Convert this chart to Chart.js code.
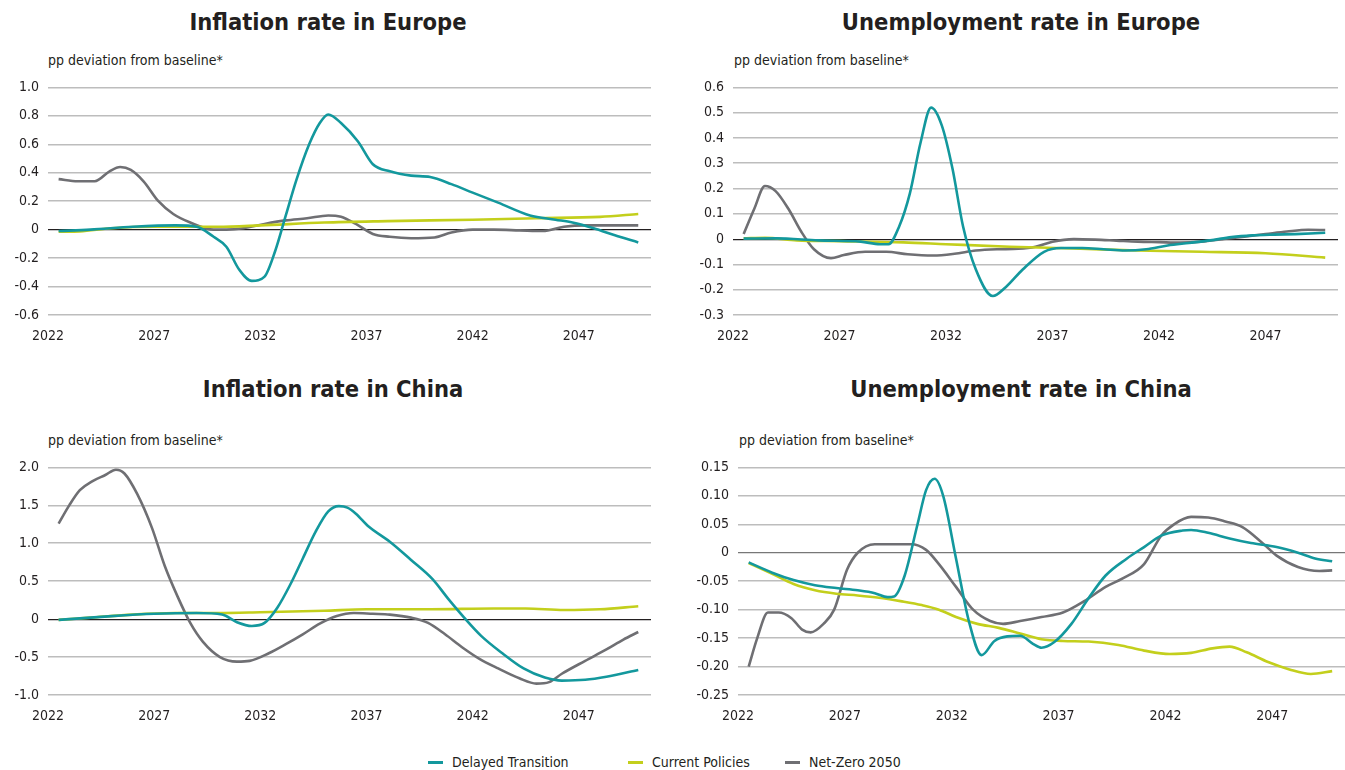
<!DOCTYPE html>
<html>
<head>
<meta charset="utf-8">
<script src="https://cdn.jsdelivr.net/npm/chart.js@4.4.0/dist/chart.umd.min.js"></script>
<style>
    body { margin: 0; background: #fff; width: 1345px; height: 770px; position: relative; overflow: hidden;
           font-family: "Liberation Sans Narrow", "DejaVu Sans Condensed", sans-serif; color: #231f20; }
    canvas { position: absolute; }
    .title { position: absolute; font-weight: bold; font-size: 23.5px; text-align: center; line-height: 30px; }
    .unit { position: absolute; font-size: 14px; line-height: 20px; }
    .legend { position: absolute; top: 752px; font-size: 14px; line-height: 20px; }
    .legend span { display: inline-block; width: 15px; height: 3px; vertical-align: middle; margin-right: 9px; position: relative; top: -1px; }
</style>
</head>
<body>

<div class="title" style="left:0;width:656px;top:7px">Inflation rate in Europe</div>
<div class="title" style="left:680px;width:682px;top:7px">Unemployment rate in Europe</div>
<div class="title" style="left:0;width:666px;top:374px">Inflation rate in China</div>
<div class="title" style="left:680px;width:682px;top:374px">Unemployment rate in China</div>

<div class="unit" style="left:48px;top:50px">pp deviation from baseline*</div>
<div class="unit" style="left:734px;top:50px">pp deviation from baseline*</div>
<div class="unit" style="left:48px;top:430px">pp deviation from baseline*</div>
<div class="unit" style="left:739px;top:430px">pp deviation from baseline*</div>

<canvas id="inflEu" width="665" height="285" style="left:0;top:70px"></canvas>
<canvas id="unempEu" width="665" height="285" style="left:680px;top:70px"></canvas>
<canvas id="inflCn" width="665" height="285" style="left:0;top:450px"></canvas>
<canvas id="unempCn" width="665" height="285" style="left:680px;top:450px"></canvas>

<div class="legend" style="left:428px"><span style="background:#13989d"></span>Delayed Transition</div>
<div class="legend" style="left:628px"><span style="background:#c3cf1c"></span>Current Policies</div>
<div class="legend" style="left:785px"><span style="background:#6f6f73"></span>Net-Zero 2050</div>

<script>
// x axis
var yearTicks = [2022, 2027, 2032, 2037, 2042, 2047];
var seriesNames = ['Delayed Transition', 'Current Policies', 'Net-Zero 2050'];
var seriesColors = ['#13989d', '#c3cf1c', '#6f6f73'];

// Inflation rate in Europe - [year, pp]
var inflEuDelayed = [[2022.5,-0.01],[2024,0.0],[2026,0.02],[2028,0.03],[2029,0.02],[2029.8,-0.05],[2030.4,-0.12],[2031,-0.28],[2031.6,-0.36],[2032.2,-0.33],[2032.7,-0.15],[2033.2,0.1],[2033.7,0.35],[2034.3,0.6],[2034.8,0.75],[2035.2,0.81],[2035.8,0.75],[2036.6,0.62],[2037.3,0.46],[2038.1,0.41],[2039.1,0.38],[2040,0.37],[2041,0.32],[2042,0.26],[2043.2,0.19],[2044.7,0.1],[2045.9,0.07],[2046.7,0.05],[2047.7,0.01],[2048.7,-0.04],[2049.8,-0.09]];
var inflEuCurrent = [[2022.5,-0.015],[2023.5,-0.012],[2025,0.01],[2027,0.02],[2030,0.02],[2032,0.03],[2035,0.05],[2038,0.06],[2042,0.07],[2045,0.08],[2048,0.09],[2049.8,0.11]];
var inflEuNetZero = [[2022.5,0.355],[2023.4,0.34],[2024.2,0.34],[2024.9,0.41],[2025.4,0.44],[2025.9,0.42],[2026.5,0.34],[2027.2,0.2],[2027.9,0.11],[2028.7,0.05],[2029.8,0.0],[2030.4,0.0],[2031.2,0.01],[2032.2,0.04],[2033.2,0.065],[2034.2,0.08],[2035.2,0.1],[2035.8,0.09],[2036.5,0.04],[2037.3,-0.03],[2038.1,-0.05],[2039.1,-0.06],[2040.2,-0.055],[2041,-0.02],[2042,0.0],[2043,0.0],[2044.2,-0.005],[2045.3,-0.01],[2046.3,0.02],[2047.3,0.03],[2048.5,0.03],[2049.8,0.03]];
var inflEuTicks = ['1.0', '0.8', '0.6', '0.4', '0.2', '0', '-0.2', '-0.4', '-0.6'];

// Unemployment rate in Europe
var unempEuDelayed = [[2022.5,0.002],[2024,0.003],[2026,-0.005],[2028,-0.01],[2028.9,-0.02],[2029.3,-0.02],[2029.8,0.05],[2030.3,0.18],[2030.8,0.38],[2031.3,0.52],[2031.8,0.45],[2032.3,0.28],[2032.8,0.05],[2033.4,-0.12],[2034.2,-0.225],[2034.8,-0.19],[2035.6,-0.12],[2036.6,-0.05],[2037.4,-0.035],[2038.4,-0.035],[2039.4,-0.04],[2040.4,-0.045],[2041.4,-0.04],[2042.4,-0.025],[2043.4,-0.015],[2044.4,-0.005],[2045.4,0.008],[2046.4,0.015],[2047.4,0.018],[2048.4,0.02],[2049.8,0.025]];
var unempEuCurrent = [[2022.5,0.003],[2023.5,0.005],[2025,-0.005],[2027,-0.008],[2030,-0.013],[2032,-0.02],[2035,-0.03],[2038,-0.037],[2041,-0.045],[2044,-0.05],[2047,-0.056],[2049.8,-0.073]];
var unempEuNetZero = [[2022.5,0.02],[2023,0.12],[2023.5,0.21],[2024,0.19],[2024.6,0.12],[2025.2,0.03],[2025.8,-0.04],[2026.6,-0.075],[2027.2,-0.063],[2028.2,-0.05],[2029.2,-0.05],[2030.2,-0.06],[2031.4,-0.065],[2032.4,-0.058],[2033.4,-0.045],[2034.4,-0.04],[2035.4,-0.038],[2036.2,-0.03],[2037,-0.01],[2038,0.0],[2039,-0.002],[2040,-0.006],[2041,-0.01],[2042,-0.012],[2043,-0.014],[2044,-0.01],[2045,0.0],[2046,0.01],[2047,0.02],[2048,0.03],[2049,0.037],[2049.8,0.036]];
var unempEuTicks = ['0.6', '0.5', '0.4', '0.3', '0.2', '0.1', '0', '-0.1', '-0.2', '-0.3'];

// Inflation rate in China
var inflCnDelayed = [[2022.5,-0.01],[2025,0.04],[2027,0.07],[2029,0.08],[2030.2,0.06],[2030.9,-0.04],[2031.6,-0.09],[2032.2,-0.05],[2032.8,0.15],[2033.4,0.45],[2034,0.8],[2034.6,1.15],[2035.2,1.42],[2035.7,1.49],[2036.1,1.47],[2036.5,1.39],[2037.1,1.22],[2038.1,1.02],[2039.1,0.78],[2040.1,0.53],[2040.9,0.25],[2041.6,0.02],[2042.4,-0.22],[2043.4,-0.45],[2044.4,-0.65],[2045.4,-0.77],[2046.2,-0.81],[2047.3,-0.8],[2048.3,-0.76],[2049.8,-0.67]];
var inflCnCurrent = [[2022.5,-0.01],[2024,0.02],[2026,0.06],[2028,0.08],[2030,0.08],[2032,0.09],[2035,0.11],[2037,0.13],[2040,0.13],[2043,0.14],[2044.5,0.14],[2046.3,0.12],[2048,0.13],[2049.8,0.17]];
var inflCnNetZero = [[2022.5,1.26],[2023,1.5],[2023.5,1.7],[2024.1,1.82],[2024.7,1.9],[2025.2,1.97],[2025.6,1.92],[2026.2,1.65],[2026.9,1.2],[2027.5,0.7],[2028.1,0.3],[2028.7,-0.05],[2029.3,-0.3],[2030.1,-0.5],[2030.9,-0.56],[2031.5,-0.55],[2032.4,-0.45],[2033.2,-0.33],[2034,-0.2],[2034.8,-0.06],[2035.6,0.04],[2036.4,0.08],[2037.3,0.07],[2038.1,0.06],[2039.1,0.02],[2039.9,-0.05],[2040.7,-0.2],[2041.5,-0.37],[2042.3,-0.52],[2043.2,-0.65],[2044.2,-0.78],[2045,-0.85],[2045.6,-0.83],[2046.2,-0.72],[2047.3,-0.55],[2048.3,-0.4],[2049.1,-0.27],[2049.8,-0.17]];
var inflCnTicks = ['2.0', '1.5', '1.0', '0.5', '0', '-0.5', '-1.0'];

// Unemployment rate in China
var unempCnDelayed = [[2022.5,-0.017],[2023.6,-0.035],[2024.6,-0.048],[2025.6,-0.057],[2026.6,-0.062],[2027.6,-0.066],[2028.4,-0.071],[2029,-0.078],[2029.3,-0.077],[2029.8,-0.04],[2030.4,0.05],[2030.8,0.11],[2031.2,0.13],[2031.6,0.1],[2032.2,-0.01],[2032.8,-0.12],[2033.4,-0.18],[2034,-0.155],[2034.6,-0.147],[2035.2,-0.146],[2035.8,-0.16],[2036.2,-0.167],[2036.8,-0.157],[2037.6,-0.125],[2038.4,-0.08],[2039.2,-0.04],[2040.2,-0.01],[2041,0.01],[2041.8,0.03],[2042.8,0.039],[2043.2,0.04],[2044,0.035],[2045,0.025],[2046,0.017],[2047.2,0.01],[2048.2,0.0],[2049,-0.01],[2049.8,-0.015]];
var unempCnCurrent = [[2022.5,-0.018],[2023.6,-0.037],[2024.6,-0.055],[2025.6,-0.066],[2026.6,-0.072],[2027.6,-0.075],[2028.6,-0.079],[2029.6,-0.085],[2030.6,-0.092],[2031.4,-0.1],[2032.2,-0.113],[2033.2,-0.125],[2034.2,-0.132],[2035.2,-0.142],[2036.2,-0.152],[2037.2,-0.155],[2038.4,-0.156],[2039.8,-0.162],[2041,-0.172],[2042.2,-0.178],[2043.2,-0.176],[2044.2,-0.168],[2045,-0.165],[2045.8,-0.175],[2046.8,-0.192],[2047.8,-0.205],[2048.8,-0.213],[2049.8,-0.208]];
var unempCnNetZero = [[2022.5,-0.2],[2022.9,-0.15],[2023.4,-0.105],[2023.9,-0.105],[2024.5,-0.115],[2025,-0.135],[2025.4,-0.14],[2026,-0.125],[2026.5,-0.1],[2027.1,-0.03],[2027.6,0.0],[2028.4,0.015],[2029.2,0.015],[2030.1,0.015],[2030.8,0.005],[2031.4,-0.02],[2032.2,-0.06],[2033,-0.1],[2033.8,-0.12],[2034.4,-0.125],[2035.2,-0.12],[2036.2,-0.113],[2037.2,-0.105],[2038.2,-0.085],[2039.2,-0.06],[2040,-0.045],[2041,-0.02],[2041.8,0.03],[2042.4,0.05],[2043.2,0.063],[2044,0.062],[2044.8,0.055],[2045.6,0.045],[2046.6,0.015],[2047.2,-0.005],[2048.2,-0.025],[2049.2,-0.032],[2049.8,-0.031]];
var unempCnTicks = ['0.15', '0.10', '0.05', '0', '-0.05', '-0.10', '-0.15', '-0.20', '-0.25'];

var FONT = '"Liberation Sans Narrow", "DejaVu Sans Condensed", sans-serif';

function toPoints(pairs) {
    return pairs.map(function(p) { return { x: p[0], y: p[1] }; });
}

function createChart(id, series, tickLabels, axisWidth, rightPad, zeroColor) {
    var tickValues = tickLabels.map(Number);
    var datasets = series.map(function(s, i) {
        return {
            label: seriesNames[i],
            data: toPoints(s),
            borderColor: seriesColors[i],
            borderWidth: 2.6,
            pointRadius: 0,
            fill: false,
            cubicInterpolationMode: 'monotone'
        };
    });

    new Chart(document.getElementById(id).getContext('2d'), {
        type: 'line',
        data: { datasets: datasets },
        options: {
            responsive: false,
            animation: false,
            layout: { padding: { top: 11, bottom: 8, right: rightPad, left: 0 } },
            plugins: { legend: { display: false }, tooltip: { enabled: false } },
            scales: {
                x: {
                    type: 'linear',
                    min: 2022,
                    max: 2050.4,
                    afterBuildTicks: function(scale) {
                        scale.ticks = yearTicks.map(function(v) { return { value: v }; });
                    },
                    afterFit: function(scale) { scale.height = 32; },
                    ticks: {
                        padding: 5,
                        color: '#231f20',
                        font: { family: FONT, size: 14 },
                        maxRotation: 0,
                        callback: function(v) { return String(v); }
                    },
                    grid: { display: false },
                    border: { display: false }
                },
                y: {
                    min: tickValues[tickValues.length - 1],
                    max: tickValues[0],
                    afterBuildTicks: function(scale) {
                        scale.ticks = tickValues.map(function(v) { return { value: v }; });
                    },
                    afterFit: function(scale) { scale.width = axisWidth; },
                    ticks: {
                        padding: 9,
                        color: '#231f20',
                        font: { family: FONT, size: 14 },
                        callback: function(v) {
                            var idx = tickValues.indexOf(v);
                            return idx >= 0 ? tickLabels[idx] : '';
                        }
                    },
                    grid: {
                        drawTicks: false,
                        color: function(c) { return c.tick && c.tick.value === 0 ? zeroColor : '#bdbdbd'; },
                        lineWidth: function(c) { return c.tick && c.tick.value === 0 ? 1.2 : 1.6; }
                    },
                    border: { display: false }
                }
            }
        }
    });
}

createChart('inflEu', [inflEuDelayed, inflEuCurrent, inflEuNetZero], inflEuTicks, 48, 14, '#231f20');
createChart('unempEu', [unempEuDelayed, unempEuCurrent, unempEuNetZero], unempEuTicks, 53, 7, '#231f20');
createChart('inflCn', [inflCnDelayed, inflCnCurrent, inflCnNetZero], inflCnTicks, 48, 14, '#231f20');
createChart('unempCn', [unempCnDelayed, unempCnCurrent, unempCnNetZero], unempCnTicks, 58, 0, '#777777');
</script>
</body>
</html>
